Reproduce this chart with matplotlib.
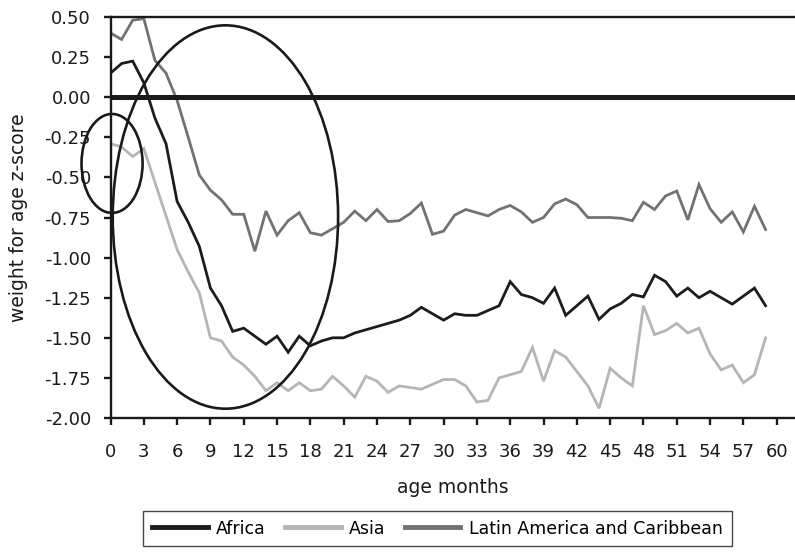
import matplotlib
matplotlib.use("Agg")
import matplotlib.pyplot as plt
from matplotlib.patches import Ellipse
import numpy as np

# weight-for-age z-score by age in months
months = list(range(60))

africa = [0.15, 0.21, 0.225, 0.09, -0.13, -0.29, -0.65, -0.78, -0.93, -1.19,
          -1.30, -1.46, -1.44, -1.49, -1.54, -1.49, -1.59, -1.49, -1.55, -1.52,
          -1.50, -1.50, -1.47, -1.45, -1.43, -1.41, -1.39, -1.36, -1.31, -1.35,
          -1.39, -1.35, -1.36, -1.36, -1.33, -1.30, -1.15, -1.23, -1.25, -1.285,
          -1.19, -1.36, -1.30, -1.24, -1.385, -1.32, -1.285, -1.23, -1.245, -1.11,
          -1.15, -1.24, -1.19, -1.25, -1.21, -1.25, -1.29, -1.24, -1.19, -1.30]

asia = [-0.29, -0.31, -0.37, -0.32, -0.53, -0.74, -0.95, -1.09, -1.22, -1.50,
        -1.52, -1.62, -1.67, -1.74, -1.83, -1.78, -1.83, -1.78, -1.83, -1.82,
        -1.74, -1.80, -1.87, -1.74, -1.77, -1.84, -1.80, -1.81, -1.82, -1.79,
        -1.76, -1.76, -1.80, -1.90, -1.89, -1.75, -1.73, -1.71, -1.56, -1.77,
        -1.58, -1.62, -1.71, -1.80, -1.94, -1.69, -1.75, -1.80, -1.30, -1.48,
        -1.455, -1.41, -1.47, -1.44, -1.60, -1.70, -1.67, -1.78, -1.73, -1.50]

latam = [0.40, 0.36, 0.48, 0.49, 0.23, 0.15, -0.02, -0.25, -0.485, -0.58,
         -0.64, -0.73, -0.73, -0.96, -0.71, -0.86, -0.77, -0.72, -0.845, -0.86,
         -0.82, -0.78, -0.71, -0.77, -0.70, -0.775, -0.77, -0.725, -0.66, -0.855,
         -0.835, -0.735, -0.70, -0.72, -0.74, -0.70, -0.675, -0.715, -0.78, -0.75,
         -0.665, -0.635, -0.67, -0.75, -0.75, -0.75, -0.755, -0.77, -0.655, -0.70,
         -0.615, -0.585, -0.765, -0.545, -0.695, -0.78, -0.715, -0.84, -0.68, -0.825]

xticks = list(range(0, 61, 3))
yticks = [0.50, 0.25, 0.00, -0.25, -0.50, -0.75, -1.00, -1.25, -1.50, -1.75, -2.00]

plt.rcParams['font.family'] = ['DejaVu Sans']
plt.rcParams['axes.unicode_minus'] = False

fig = plt.figure(figsize=(7.95, 5.52), dpi=100)
ax = fig.add_axes([110.5 / 795, 1 - 418 / 552, 1 - 110.5 / 795, (418 - 17) / 552])

ax.plot(months, africa, color='#1c1c1c', lw=2.0, label='Africa', solid_joinstyle='miter')
ax.plot(months, asia, color='#b3b5b7', lw=2.0, label='Asia', solid_joinstyle='miter')
ax.plot(months, latam, color='#727272', lw=2.0, label='Latin America and Caribbean',
        solid_joinstyle='miter')

ax.axhline(0, color='#1a1a1a', lw=3.6, zorder=3)

# the two hand-drawn ellipses
ax.add_patch(Ellipse((10.35, -0.747), 20.3, 2.39, fill=False, ec='#1a1a1a', lw=1.9,
                     clip_on=False, zorder=4))
ax.add_patch(Ellipse((0.14, -0.413), 5.5, 0.617, fill=False, ec='#1a1a1a', lw=1.9,
                     clip_on=False, zorder=4))

ax.set_xlim(0, 61.65)
ax.set_ylim(-2.0, 0.5)
ax.set_xticks(xticks)
ax.set_yticks(yticks)
ax.set_yticklabels(['%.2f' % v for v in yticks])

for side in ['left', 'bottom', 'top']:
    ax.spines[side].set_color('#1a1a1a')
    ax.spines[side].set_linewidth(1.7)
ax.spines['right'].set_visible(False)

ax.tick_params(axis='both', direction='out', length=5, width=1.7, color='#1a1a1a',
               labelsize=13, labelcolor='#1a1a1a')
ax.tick_params(axis='x', pad=13)
ax.tick_params(axis='y', pad=9)

ax.set_xlabel('age months', fontsize=13.5, color='#1a1a1a', labelpad=12)
ax.set_ylabel('weight for age z-score', fontsize=13.5, color='#1a1a1a', labelpad=12)

leg = fig.legend(loc='center', bbox_to_anchor=(437.5 / 795, 1 - 528.5 / 552), ncol=3,
                 fontsize=12.5, frameon=True, fancybox=False, handlelength=3.2,
                 handletextpad=0.5, columnspacing=1.1, borderpad=0.5)
leg.get_frame().set_edgecolor('#1a1a1a')
leg.get_frame().set_linewidth(1.0)
for line in leg.get_lines():
    line.set_linewidth(3.5)

fig.savefig('out.png', dpi=100)
